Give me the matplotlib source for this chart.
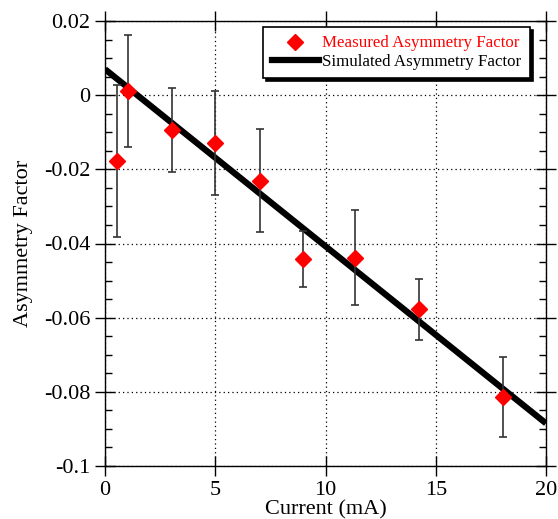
import matplotlib
matplotlib.use("Agg")
import matplotlib.pyplot as plt
from matplotlib.ticker import MultipleLocator, FuncFormatter
from matplotlib.lines import Line2D

current = [0.54, 1.03, 3.04, 5.0, 7.03, 8.98, 11.34, 14.24, 18.05]
asym = [-0.0178, 0.0011, -0.0094, -0.0129, -0.0231, -0.0442, -0.0439, -0.0577, -0.0814]
asym_err = [0.0205, 0.015, 0.0112, 0.014, 0.0139, 0.0076, 0.0128, 0.0082, 0.0108]
sim_x = [0, 20]
sim_y = [0.007, -0.0885]

plt.rcParams['font.family'] = ['Liberation Serif', 'DejaVu Serif']

fig = plt.figure(figsize=(5.58, 5.19), dpi=100)
ax = fig.add_axes([105/558, 1-466/519, 441/558, 445/519])

ax.plot(sim_x, sim_y, color='black', lw=4.5, solid_capstyle='butt', zorder=3)
ax.errorbar(current, asym, yerr=asym_err, fmt='D', color='red', ms=8.5, mec='red',
            ecolor='#333333', elinewidth=1.2, capsize=3, capthick=1.2, zorder=4)

ax.set_xlim(0, 20)
ax.set_ylim(-0.1, 0.02)
ax.xaxis.set_major_locator(MultipleLocator(5))
ax.yaxis.set_major_locator(MultipleLocator(0.02))
ax.yaxis.set_minor_locator(MultipleLocator(0.005))

def yfmt(v, pos):
    if abs(v) < 1e-9:
        return '0'
    return ('%.2f' % v).rstrip('0')
ax.yaxis.set_major_formatter(FuncFormatter(yfmt))

ax.tick_params(which='both', top=True, right=True, labelsize=16, width=1)
ax.tick_params(which='major', direction='inout', length=15, pad=3)
ax.tick_params(which='minor', direction='in', length=5)
ax.grid(True, which='major', color='black', linestyle=(0, (1, 2.5)), lw=0.9)
for s in ax.spines.values():
    s.set_linewidth(1)

ax.set_xlabel('Current (mA)', fontsize=16, labelpad=0.5)
ax.set_ylabel('Asymmetry Factor', fontsize=16)
ax.yaxis.set_label_coords((33-105)/441, 0.5)

h_meas = Line2D([], [], marker='D', color='red', ls='none', ms=8.5)
h_sim = Line2D([], [], color='black', lw=4.5)
leg = ax.legend([h_meas, h_sim], ['Measured Asymmetry Factor', 'Simulated Asymmetry Factor'],
                loc='upper right', bbox_to_anchor=((530-105)/441, (466-27)/445), fontsize=12.2,
                frameon=True, fancybox=False, shadow={'color': 'black', 'alpha': 1},
                handlelength=2.8, handletextpad=0.2, borderpad=0.5, labelspacing=0.15,
                borderaxespad=0)
leg.get_frame().set_edgecolor('black')
leg.get_frame().set_linewidth(1.2)
leg.get_texts()[0].set_color('red')
leg.set_zorder(10)

fig.savefig('out.png', dpi=100)
